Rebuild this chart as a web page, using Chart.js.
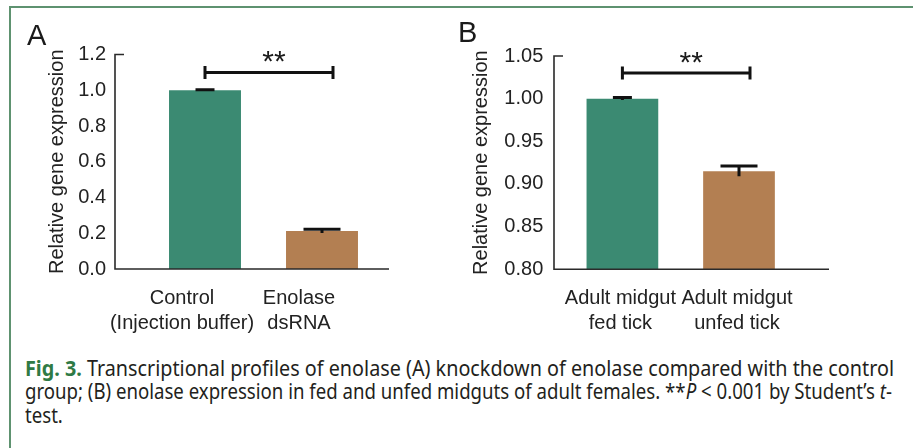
<!DOCTYPE html>
<html>
<head>
<meta charset="utf-8">
<script src="https://cdn.jsdelivr.net/npm/chart.js"></script>
<style>
  html, body { margin: 0; padding: 0; background: #fff; }
  #fig { position: relative; width: 913px; height: 448px; overflow: hidden; font-family: "Liberation Sans", Arial, sans-serif; }
  #frame { position: absolute; left: 9px; top: 6px; width: 1000px; height: 600px; border-left: 2px solid #5e9270; border-top: 2px solid #5e9270; }
  canvas { position: absolute; top: 0; }
  .panel { position: absolute; font-size: 29px; line-height: 28px; color: #1a1a1a; }
  .cap { position: absolute; left: 25px; font-family: "Noto Sans", sans-serif; font-size: 21px; line-height: 23.5px; color: #231f20; white-space: nowrap; transform-origin: 0 0; }
  .cap b { color: #2f7a45; }
</style>
</head>
<body>
<div id="fig">
  <div id="frame"></div>
  <canvas id="chartA" width="455" height="345" style="left:0"></canvas>
  <canvas id="chartB" width="458" height="345" style="left:455px"></canvas>
  <div class="panel" style="left:27px;top:21px">A</div>
  <div class="panel" style="left:458px;top:18px">B</div>
  <div class="cap" id="cap1" style="top:357px"><b>Fig. 3.</b> Transcriptional profiles of enolase (A) knockdown of enolase compared with the control</div>
  <div class="cap" id="cap2" style="top:380px">group; (B) enolase expression in fed and unfed midguts of adult females. **<i>P</i> &lt; 0.001 by Student’s <i>t</i>-</div>
  <div class="cap" id="cap3" style="top:404px">test.</div>
</div>
<script>
// panel A: knockdown
const labelsA = [["Control", "(Injection buffer)"], ["Enolase", "dsRNA"]];
const valuesA = [1.0, 0.212];
const errorsA = [0.003, 0.01];
const sigLevelA = 1.1;

// panel B: fed vs unfed midgut
const labelsB = [["Adult midgut", "fed tick"], ["Adult midgut", "unfed tick"]];
const valuesB = [1.0, 0.915];
const errorsB = [0.0015, 0.006];
const sigLevelB = 1.03;

const barColors = ["#3b8a72", "#b37f52"];
const inkColor = "#222";
const fontFamily = "'Liberation Sans', Arial, sans-serif";

// axis lines, error bars and the ** bracket
const extras = {
  id: "extras",
  afterDatasetsDraw(chart, args, opts) {
    const ctx = chart.ctx;
    const area = chart.chartArea;
    const y = chart.scales.y;
    const bars = chart.getDatasetMeta(0).data;
    const values = chart.data.datasets[0].data;

    ctx.save();
    // axes
    const axisX = area.left - opts.axisGap;
    const top = y.getPixelForValue(y.max);
    const bottom = y.getPixelForValue(y.min);
    ctx.strokeStyle = "#2a2a2a";
    ctx.lineWidth = 1.6;
    ctx.beginPath();
    ctx.moveTo(axisX + 9, top);
    ctx.lineTo(axisX, top);
    ctx.lineTo(axisX, bottom);
    ctx.lineTo(area.right + opts.axisExt, bottom);
    ctx.stroke();

    // error bars
    ctx.strokeStyle = "#111";
    ctx.lineWidth = 3;
    bars.forEach((bar, i) => {
      const hi = y.getPixelForValue(values[i] + opts.errors[i]);
      const lo = y.getPixelForValue(values[i] - opts.errors[i]);
      const w = opts.capWidths[i] / 2;
      ctx.beginPath();
      ctx.moveTo(bar.x, lo);
      ctx.lineTo(bar.x, hi);
      ctx.moveTo(bar.x - w, hi);
      ctx.lineTo(bar.x + w, hi);
      ctx.stroke();
    });

    // significance bracket
    const sy = y.getPixelForValue(opts.sigLevel);
    const x0 = bars[0].x;
    const x1 = bars[1].x + 11;
    ctx.beginPath();
    ctx.moveTo(x0, sy);
    ctx.lineTo(x1, sy);
    ctx.moveTo(x0, sy - 6.5);
    ctx.lineTo(x0, sy + 6.5);
    ctx.moveTo(x1, sy - 6.5);
    ctx.lineTo(x1, sy + 6.5);
    ctx.stroke();
    ctx.fillStyle = "#1a1a1a";
    ctx.font = "30px " + fontFamily;
    ctx.textAlign = "center";
    ctx.textBaseline = "alphabetic";
    ctx.fillText("**", (x0 + x1) / 2 + 5, sy - 1);
    ctx.restore();
  },
};

function makeChart(id, p) {
  return new Chart(document.getElementById(id), {
    type: "bar",
    data: {
      labels: p.labels,
      datasets: [
        {
          data: p.values,
          backgroundColor: barColors,
          borderWidth: 0,
          barPercentage: 0.615,
          categoryPercentage: 1,
        },
      ],
    },
    options: {
      responsive: false,
      animation: false,
      devicePixelRatio: 1,
      layout: { padding: { left: 0, top: p.top, right: p.right, bottom: 0 } },
      plugins: {
        legend: { display: false },
        tooltip: { enabled: false },
        extras: {
          errors: p.errors,
          capWidths: [19, 37],
          sigLevel: p.sigLevel,
          axisGap: p.axisGap,
          axisExt: p.axisExt,
        },
      },
      scales: {
        x: {
          grid: { display: false, drawTicks: false, tickLength: 0 },
          border: { display: false },
          ticks: {
            color: inkColor,
            padding: 16.5,
            autoSkip: false,
            labelOffset: p.labelOffset,
            maxRotation: 0,
            font: { family: fontFamily, size: 20, lineHeight: 1.25 },
          },
          afterFit(scale) {
            scale.height = p.xHeight;
          },
        },
        y: {
          min: p.min,
          max: p.max,
          grid: { display: false, drawTicks: false, tickLength: 0 },
          border: { display: false },
          ticks: {
            stepSize: p.step,
            color: inkColor,
            padding: p.tickPad,
            font: { family: fontFamily, size: 20 },
            callback: (v) => v.toFixed(p.digits),
          },
          title: {
            display: true,
            text: "Relative gene expression",
            color: inkColor,
            padding: { top: p.titlePad, bottom: 0 },
            font: { family: fontFamily, size: 20 },
          },
          afterFit(scale) {
            scale.width = p.yWidth;
          },
        },
      },
    },
    plugins: [extras],
  });
}

makeChart("chartA", {
  labels: labelsA, values: valuesA, errors: errorsA, sigLevel: sigLevelA,
  min: 0, max: 1.2, step: 0.2, digits: 1,
  top: 54.5, right: 74.5, xHeight: 76, yWidth: 146.5,
  tickPad: 40.5, titlePad: 45, labelOffset: -23,
  axisGap: 31.5, axisExt: 8.5,
});

makeChart("chartB", {
  labels: labelsB, values: valuesB, errors: errorsB, sigLevel: sigLevelB,
  min: 0.8, max: 1.05, step: 0.05, digits: 2,
  top: 56, right: 115.7, xHeight: 75.7, yWidth: 109.1,
  tickPad: 20.8, titlePad: 14.7, labelOffset: -2,
  axisGap: 10.1, axisExt: 31.7,
});

// squeeze the caption lines to the width of the original typesetting
const w1 = document.getElementById("cap1").getBoundingClientRect().width;
const w2 = document.getElementById("cap2").getBoundingClientRect().width;
const k1 = 869 / w1;
const k2 = 867 / w2;
document.getElementById("cap1").style.transform = "scaleX(" + k1 + ")";
document.getElementById("cap2").style.transform = "scaleX(" + k2 + ")";
document.getElementById("cap3").style.transform = "scaleX(" + k2 + ")";
</script>
</body>
</html>
